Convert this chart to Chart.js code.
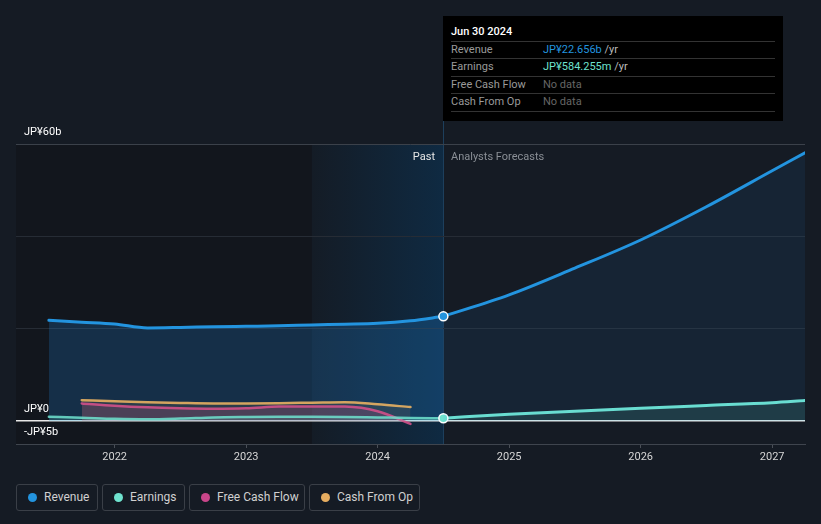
<!DOCTYPE html>
<html><head><meta charset="utf-8">
<script src="https://cdn.jsdelivr.net/npm/chart.js@4.4.1/dist/chart.umd.min.js"></script>
<style>
html,body{margin:0;padding:0;background:#151b24;}
#wrap{position:relative;width:821px;height:524px;overflow:hidden;font-family:Roboto,"Noto Sans",sans-serif;}
#c{position:absolute;left:0;top:0;}
.abs{position:absolute;white-space:nowrap;line-height:1;}
.tip{position:absolute;left:443px;top:16px;width:340px;height:105px;background:#000;}
.tip .ln{position:absolute;left:8px;width:324px;height:1px;background:#333;}
.tip .t{position:absolute;white-space:nowrap;font-size:11px;line-height:12px;}
.leg{position:absolute;top:484px;height:27px;border:1px solid #3a3f47;border-radius:3px;box-sizing:border-box;}
.leg .dot{position:absolute;left:11px;top:8px;width:9px;height:9px;border-radius:50%;}
.leg .lt{position:absolute;left:27px;top:5px;font-size:12px;line-height:14px;color:#d0d0d0;white-space:nowrap;}
</style>
</head><body>
<div id="wrap">
<canvas id="c" width="821" height="470"></canvas>
<div class="abs" style="right:386px;top:151px;font-size:11px;color:#e6e6e6;">Past</div>
<div class="abs" style="left:451px;top:151px;font-size:11px;color:#8a8f96;">Analysts Forecasts</div>
<div class="tip">
  <div class="t" style="left:8px;top:10px;color:#fff;font-weight:500;">Jun 30 2024</div>
  <div class="ln" style="top:25px"></div>
  <div class="t" style="left:8px;top:28px;color:#9a9a9a;">Revenue</div>
  <div class="t" style="left:100px;top:28px;"><span style="color:#2394df">JP¥22.656b</span><span style="color:#bbb"> /yr</span></div>
  <div class="ln" style="top:42px"></div>
  <div class="t" style="left:8px;top:45px;color:#9a9a9a;">Earnings</div>
  <div class="t" style="left:100px;top:45px;"><span style="color:#6fe3cf">JP¥584.255m</span><span style="color:#bbb"> /yr</span></div>
  <div class="ln" style="top:60px"></div>
  <div class="t" style="left:8px;top:63px;color:#9a9a9a;">Free Cash Flow</div>
  <div class="t" style="left:100px;top:63px;color:#666;">No data</div>
  <div class="ln" style="top:77px"></div>
  <div class="t" style="left:8px;top:80px;color:#9a9a9a;">Cash From Op</div>
  <div class="t" style="left:100px;top:80px;color:#666;">No data</div>
  <div class="ln" style="top:95px"></div>
</div>
<div class="leg" style="left:16px;width:82px;"><div class="dot" style="background:#2394df"></div><div class="lt">Revenue</div></div>
<div class="leg" style="left:102px;width:83px;"><div class="dot" style="background:#6fe3cf"></div><div class="lt">Earnings</div></div>
<div class="leg" style="left:189px;width:116px;"><div class="dot" style="background:#c9468a"></div><div class="lt">Free Cash Flow</div></div>
<div class="leg" style="left:309px;width:111px;"><div class="dot" style="background:#e6ad60"></div><div class="lt">Cash From Op</div></div>
</div>
<script>
// ---- data (JP¥ billions, x = decimal year) ----
const pastX      = [2021.5, 2021.75, 2022.0, 2022.25, 2022.5, 2022.75, 2023.0, 2023.25, 2023.5, 2023.75, 2024.0, 2024.25, 2024.5];
const revenuePast  = [21.8, 21.4, 21.0, 20.15, 20.25, 20.4, 20.5, 20.6, 20.8, 20.95, 21.15, 21.7, 22.656];
const earningsPast = [0.9, 0.7, 0.45, 0.35, 0.5, 0.75, 0.85, 0.9, 0.9, 0.85, 0.75, 0.65, 0.584];
const forecastX  = [2024.5, 2025.0, 2025.5, 2026.0, 2026.5, 2027.0, 2027.25];
const revenueForecast  = [22.656, 27.3, 33.1, 39.2, 46.4, 54.2, 58.1];
const earningsForecast = [0.584, 1.45, 2.1, 2.75, 3.35, 3.95, 4.4];
const cashX      = [2021.75, 2022.0, 2022.25, 2022.5, 2022.75, 2023.0, 2023.25, 2023.5, 2023.75, 2024.0, 2024.25];
const freeCashFlow = [3.8, 3.3, 2.95, 2.75, 2.65, 2.75, 3.1, 3.15, 3.1, 2.1, -0.65];
const cashFromOp   = [4.5, 4.25, 4.05, 3.9, 3.8, 3.8, 3.85, 3.95, 4.05, 3.6, 3.0];
const xTickYears = [2022, 2023, 2024, 2025, 2026, 2027];
const yTickValues = [-5, 0, 20, 40, 60];
const yTickLabels = {'-5': '-JP¥5b', '0': 'JP¥0', '60': 'JP¥60b'};
const pastStart = 2023.5, nowX = 2024.5;

const REV = '#2394df', EARN = '#6fe3cf', FCF = '#d2508a', CFO = '#e8b062';
const pts = (xs, ys) => xs.map((x, i) => ({x, y: ys[i]}));

const bgPlugin = {
  id: 'bg',
  beforeDraw(chart) {
    const {ctx, chartArea: a, scales: {x}} = chart;
    const xs = x.getPixelForValue(pastStart), xn = x.getPixelForValue(nowX);
    ctx.save();
    ctx.fillStyle = '#12161d';
    ctx.fillRect(a.left, a.top, xs - a.left, a.bottom - a.top);
    const g = ctx.createLinearGradient(xs, 0, xn, 0);
    g.addColorStop(0, '#141c26');
    g.addColorStop(1, '#0f2a42');
    ctx.fillStyle = g;
    ctx.fillRect(xs, a.top, xn - xs, a.bottom - a.top);
    ctx.strokeStyle = '#1d3f5c';
    ctx.lineWidth = 1;
    ctx.beginPath();
    ctx.moveTo(Math.round(xn) + 0.5, 121);
    ctx.lineTo(Math.round(xn) + 0.5, a.bottom);
    ctx.stroke();
    ctx.restore();
  }
};

const dot = (c) => c.dataIndex === 0 ? 4.5 : 0;

new Chart(document.getElementById('c'), {
  type: 'line',
  data: {
    datasets: [
      {label: 'Revenue', data: pts(forecastX, revenueForecast), borderColor: REV, borderWidth: 3,
       backgroundColor: 'rgba(33,150,243,0.08)', fill: {value: 0},
       pointRadius: dot, pointBackgroundColor: REV, pointBorderColor: '#fff', pointBorderWidth: 1.5},
      {label: 'Earnings', data: pts(forecastX, earningsForecast), borderColor: EARN, borderWidth: 3,
       backgroundColor: 'rgba(110,231,208,0.13)', fill: {value: 0},
       pointRadius: dot, pointBackgroundColor: EARN, pointBorderColor: '#fff', pointBorderWidth: 1.5},
      {label: 'Earnings past', data: pts(pastX, earningsPast), borderColor: 'rgba(111,227,207,0.85)', borderWidth: 2.5,
       backgroundColor: 'rgba(110,231,208,0.15)', fill: {value: 0}, pointRadius: 0},
      {label: 'Free Cash Flow', data: pts(cashX, freeCashFlow), borderColor: 'rgba(210,80,138,0.9)', borderWidth: 2.5,
       backgroundColor: 'rgba(210,80,138,0.2)', fill: {value: 0}, pointRadius: 0},
      {label: 'Cash From Op', data: pts(cashX, cashFromOp), borderColor: 'rgba(232,176,98,0.9)', borderWidth: 2.5,
       backgroundColor: 'rgba(232,176,98,0.1)', fill: {value: 0}, pointRadius: 0},
      {label: 'Revenue past', data: pts(pastX, revenuePast), borderColor: REV, borderWidth: 3,
       backgroundColor: 'rgba(33,150,243,0.2)', fill: {value: 0}, pointRadius: 0}
    ]
  },
  options: {
    responsive: false, animation: false,
    layout: {padding: {left: 16, right: 16, top: 144, bottom: 0}},
    plugins: {legend: {display: false}, tooltip: {enabled: false}},
    elements: {line: {cubicInterpolationMode: 'monotone', borderCapStyle: 'round'}, point: {radius: 0, hoverRadius: 0}},
    events: [],
    scales: {
      x: {
        type: 'linear', min: 2021.25, max: 2027.25,
        afterBuildTicks: s => { s.ticks = xTickYears.map(v => ({value: v})); },
        ticks: {callback: v => String(v), color: '#d6d6d6', font: {family: 'Roboto', size: 11}, maxRotation: 0, autoSkip: false, padding: 3},
        grid: {drawOnChartArea: false, tickLength: 4, color: '#4a4f57'},
        border: {color: '#3f454e'},
        afterFit: s => { s.height = 26; }
      },
      y: {
        min: -5, max: 60,
        afterBuildTicks: s => { s.ticks = yTickValues.map(v => ({value: v})); },
        ticks: {mirror: true, padding: 8, labelOffset: -12, color: '#ffffff', autoSkip: false,
                font: {family: 'Roboto', size: 11}, callback: v => yTickLabels[String(v)] || ''},
        grid: {drawTicks: false, lineWidth: c => c.tick && c.tick.value === 0 ? 1.5 : 1,
               color: c => {
                 const v = c.tick ? c.tick.value : null;
                 if (v === 0) return '#e8e8e8';
                 if (v === -5) return 'rgba(0,0,0,0)';
                 if (v === 60) return '#3b414a';
                 return '#262c35';
               }},
        border: {display: false},
        afterFit: s => { s.width = 0; }
      }
    }
  },
  plugins: [bgPlugin]
});
</script>
</body></html>
